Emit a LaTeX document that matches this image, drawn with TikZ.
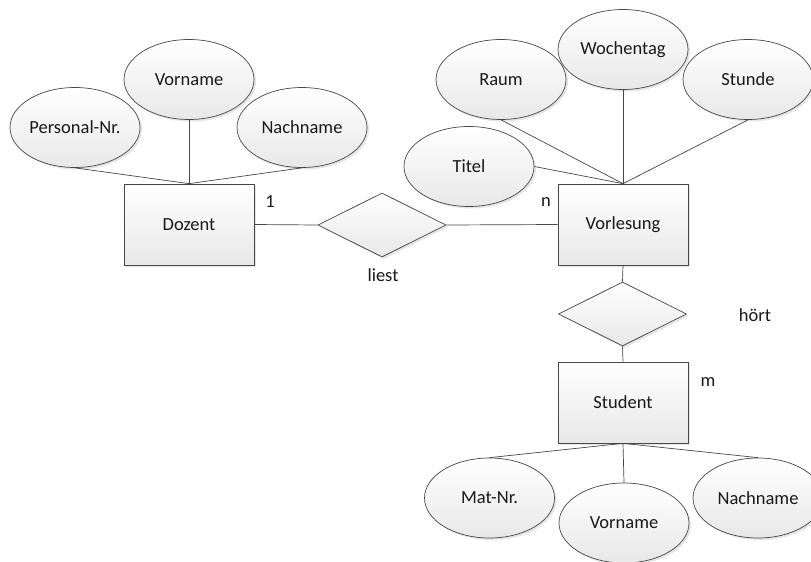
\documentclass[tikz,border=0pt]{standalone}
\usepackage{fontspec}
\setmainfont{Carlito}
\usetikzlibrary{shapes.geometric,shadows}
\begin{document}
\begin{tikzpicture}[x=1pt,y=-1pt,
  base/.style={draw=black!72, line width=0.7pt, top color=white, bottom color=black!9,
    drop shadow={shadow xshift=2pt, shadow yshift=-2pt, fill=black!25, opacity=0.4},
    font=\fontsize{18.5}{21}\selectfont, text=black!90, inner sep=0pt},
  attr/.style={base, ellipse, minimum width=130pt, minimum height=80pt},
  entity/.style={base, rectangle, minimum width=130pt, minimum height=81pt},
  rel/.style={base, diamond, minimum width=128pt, minimum height=64pt},
  lbl/.style={font=\fontsize{18.5}{21}\selectfont, text=black!90, inner sep=0pt},
  conn/.style={draw=black!72, line width=0.7pt}]
\useasboundingbox[fill=white] (0,0) rectangle (811,562);

% entities
\node[entity] (dozent) at (189,224.5) {Dozent};
\node[entity] (vorl) at (623,224.5) {Vorlesung};
\node[entity] (student) at (623,402.5) {Student};

% relationships
\node[rel] (liest) at (382,225) {};
\node[rel] (hoert) at (622.5,314) {};

% Dozent attributes
\node[attr] (pnr) at (75,127.5) {Personal-Nr.};
\node[attr] (dvor) at (189,79.5) {Vorname};
\node[attr] (dnach) at (302,127.5) {Nachname};

% Vorlesung attributes
\node[attr] (raum) at (501,79.5) {Raum};
\node[attr] (wtag) at (623,49.5) {Wochentag};
\node[attr] (stunde) at (748,79.5) {Stunde};
\node[attr] (titel) at (469,166.5) {Titel};

% Student attributes
\node[attr] (matnr) at (489.5,498) {Mat-Nr.};
\node[attr] (svor) at (624,523) {Vorname};
\node[attr] (snach) at (758,498) {Nachname};

% labels
\node[lbl] (l1) at (270,202) {1};
\node[lbl] (ln) at (546,202) {n};
\node[lbl] (lliest) at (383,275) {liest};
\node[lbl] (lhoert) at (755,315) {hört};
\node[lbl] (lm) at (708,382) {m};

% connectors
\draw[conn] (dozent.east) -- (liest.west);
\draw[conn] (liest.east) -- (vorl.west);
\draw[conn] (vorl.south) -- (hoert.north);
\draw[conn] (hoert.south) -- (student.north);

\draw[conn] (pnr.south) -- (dozent.north);
\draw[conn] (dvor.south) -- (dozent.north);
\draw[conn] (dnach.south) -- (dozent.north);

\draw[conn] (raum.south) -- (vorl.north);
\draw[conn] (wtag.south) -- (vorl.north);
\draw[conn] (stunde.south) -- (vorl.north);
\draw[conn] (titel.east) -- (vorl.north);

\draw[conn] (student.south) -- (matnr.north);
\draw[conn] (student.south) -- (svor.north);
\draw[conn] (student.south) -- (snach.north);
\end{tikzpicture}
\end{document}
